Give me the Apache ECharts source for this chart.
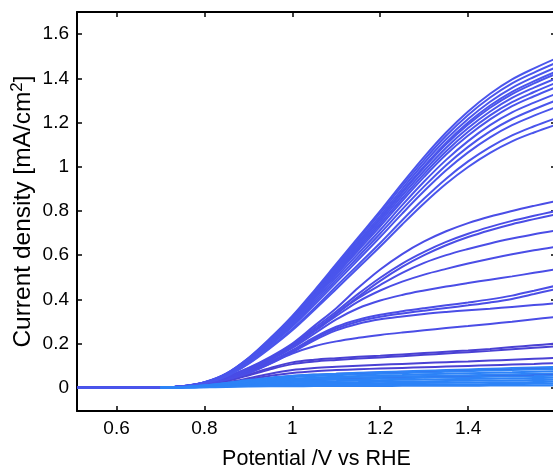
<!DOCTYPE html>
<html>
<head>
<meta charset="utf-8">
<script src="https://cdn.jsdelivr.net/npm/echarts@6/dist/echarts.min.js"></script>
<style>
html,body{margin:0;padding:0;background:#fff;}
#chart{width:553px;height:473px;}
</style>
</head>
<body>
<div id="chart"></div>
<script>
// Potential (V vs RHE) sample points
const potential = [0.51, 0.6, 0.7, 0.75, 0.8, 0.85, 0.9, 0.95, 1.0, 1.05, 1.1, 1.15, 1.2, 1.25, 1.3, 1.35, 1.4, 1.45, 1.5, 1.55, 1.6];

// High-current curves (mA/cm2)
const highCurves = [
  [0,0,0.002,0.007,0.025,0.065,0.135,0.225,0.325,0.44,0.56,0.68,0.80,0.925,1.045,1.155,1.25,1.33,1.395,1.445,1.49],
  [0,0,0.002,0.007,0.025,0.064,0.133,0.222,0.321,0.434,0.553,0.671,0.79,0.913,1.031,1.14,1.234,1.313,1.377,1.426,1.47],
  [0,0,0.002,0.007,0.024,0.063,0.131,0.219,0.316,0.428,0.545,0.662,0.778,0.9,1.017,1.124,1.216,1.294,1.357,1.406,1.45],
  [0,0,0.002,0.007,0.024,0.062,0.13,0.216,0.312,0.422,0.538,0.653,0.768,0.888,1.003,1.109,1.2,1.277,1.339,1.387,1.43],
  [0,0,0.002,0.007,0.024,0.062,0.129,0.214,0.31,0.419,0.534,0.648,0.762,0.882,0.996,1.101,1.191,1.267,1.329,1.377,1.42],
  [0,0,0.002,0.007,0.023,0.061,0.127,0.212,0.306,0.414,0.526,0.639,0.752,0.87,0.982,1.086,1.175,1.25,1.311,1.358,1.40],
  [0,0,0.002,0.006,0.023,0.06,0.125,0.208,0.301,0.407,0.519,0.63,0.741,0.857,0.968,1.07,1.158,1.232,1.292,1.338,1.38],
  [0,0,0.002,0.006,0.023,0.059,0.123,0.205,0.297,0.402,0.511,0.621,0.73,0.845,0.954,1.055,1.141,1.214,1.274,1.319,1.36],
  [0,0,0.002,0.006,0.022,0.058,0.121,0.201,0.29,0.393,0.5,0.607,0.714,0.826,0.933,1.031,1.116,1.188,1.246,1.29,1.33],
  [0,0,0.002,0.006,0.022,0.057,0.118,0.196,0.283,0.384,0.488,0.593,0.698,0.807,0.911,1.007,1.09,1.16,1.216,1.26,1.30],
  [0,0,0.002,0.006,0.021,0.055,0.115,0.192,0.277,0.375,0.477,0.579,0.682,0.788,0.89,0.984,1.065,1.133,1.188,1.231,1.27],
  [0,0,0.002,0.006,0.02,0.053,0.11,0.184,0.266,0.36,0.459,0.557,0.655,0.758,0.856,0.946,1.024,1.089,1.142,1.183,1.22],
  [0,0,0.002,0.006,0.02,0.052,0.108,0.18,0.26,0.352,0.447,0.543,0.639,0.739,0.835,0.923,0.999,1.063,1.115,1.155,1.19]
];

// Medium-current curves
const midCurves = [
  [0,0,0.002,0.006,0.02,0.05,0.09,0.14,0.20,0.28,0.36,0.452,0.535,0.605,0.662,0.708,0.745,0.775,0.80,0.823,0.845],
  [0,0,0.002,0.006,0.02,0.048,0.088,0.135,0.195,0.27,0.345,0.425,0.498,0.562,0.615,0.66,0.697,0.728,0.755,0.778,0.80],
  [0,0,0.002,0.006,0.02,0.047,0.086,0.132,0.19,0.26,0.335,0.412,0.484,0.547,0.6,0.645,0.682,0.713,0.74,0.763,0.785],
  [0,0,0.002,0.006,0.019,0.045,0.083,0.128,0.19,0.26,0.335,0.405,0.465,0.52,0.565,0.6,0.628,0.653,0.675,0.695,0.712],
  [0,0,0.002,0.006,0.019,0.045,0.083,0.13,0.185,0.255,0.325,0.39,0.44,0.48,0.512,0.538,0.562,0.584,0.604,0.622,0.638],
  [0,0,0.002,0.006,0.018,0.043,0.08,0.125,0.18,0.245,0.31,0.36,0.395,0.42,0.44,0.458,0.474,0.489,0.504,0.52,0.536],
  [0,0,0.002,0.005,0.017,0.04,0.075,0.118,0.17,0.228,0.276,0.308,0.33,0.346,0.36,0.373,0.386,0.40,0.417,0.439,0.462],
  [0,0,0.002,0.005,0.017,0.04,0.073,0.115,0.165,0.222,0.268,0.30,0.321,0.336,0.349,0.361,0.373,0.386,0.402,0.424,0.447],
  [0,0,0.002,0.005,0.016,0.038,0.07,0.11,0.16,0.215,0.26,0.29,0.31,0.323,0.334,0.343,0.351,0.358,0.366,0.374,0.382],
  [0,0,0.002,0.005,0.016,0.036,0.065,0.11,0.155,0.188,0.21,0.226,0.239,0.25,0.26,0.27,0.279,0.289,0.299,0.31,0.321]
];

// Low-current curves
const lowCurves = [
  [0,0,0.001,0.004,0.013,0.032,0.06,0.09,0.115,0.127,0.134,0.14,0.145,0.151,0.157,0.163,0.169,0.176,0.184,0.192,0.20],
  [0,0,0.001,0.004,0.012,0.03,0.056,0.084,0.107,0.119,0.126,0.132,0.137,0.143,0.149,0.155,0.161,0.167,0.174,0.181,0.188],
  [0,0,0.001,0.003,0.01,0.024,0.043,0.064,0.08,0.089,0.095,0.1,0.104,0.108,0.112,0.116,0.119,0.123,0.127,0.131,0.135],
  [0,0,0.001,0.003,0.009,0.021,0.037,0.054,0.067,0.075,0.08,0.084,0.087,0.09,0.093,0.096,0.099,0.102,0.105,0.108,0.112],
  [0,0,0.001,0.003,0.008,0.018,0.03,0.043,0.053,0.059,0.063,0.066,0.069,0.072,0.074,0.077,0.079,0.082,0.085,0.087,0.09],
  [0,0,0.001,0.002,0.006,0.013,0.021,0.029,0.035,0.039,0.042,0.044,0.046,0.048,0.05,0.051,0.053,0.055,0.056,0.058,0.06]
];

// Near-zero curves (visible from about 0.7 V)
const baseCurves = [
  [null,null,0.001,0.004,0.011,0.022,0.035,0.046,0.054,0.06,0.064,0.068,0.071,0.074,0.077,0.08,0.083,0.086,0.089,0.092,0.095],
  [null,null,0.001,0.003,0.01,0.02,0.031,0.041,0.048,0.053,0.057,0.06,0.063,0.066,0.069,0.072,0.075,0.078,0.08,0.083,0.085],
  [null,null,0.001,0.003,0.009,0.018,0.028,0.036,0.042,0.047,0.05,0.053,0.056,0.058,0.061,0.063,0.066,0.068,0.07,0.073,0.075],
  [null,null,0.001,0.003,0.008,0.016,0.025,0.032,0.037,0.041,0.044,0.046,0.049,0.051,0.053,0.055,0.057,0.059,0.061,0.063,0.065],
  [null,null,0.001,0.002,0.007,0.014,0.021,0.027,0.031,0.034,0.037,0.039,0.041,0.043,0.045,0.047,0.048,0.05,0.052,0.053,0.055],
  [null,null,0.001,0.002,0.006,0.012,0.018,0.023,0.026,0.029,0.031,0.033,0.034,0.036,0.037,0.039,0.04,0.041,0.043,0.044,0.045],
  [null,null,0.001,0.002,0.005,0.01,0.015,0.019,0.021,0.023,0.025,0.026,0.027,0.028,0.029,0.031,0.032,0.033,0.034,0.035,0.036],
  [null,null,0.001,0.002,0.004,0.008,0.012,0.015,0.017,0.018,0.019,0.02,0.021,0.022,0.022,0.023,0.024,0.025,0.025,0.026,0.027],
  [null,null,0.001,0.001,0.003,0.006,0.009,0.011,0.012,0.013,0.013,0.014,0.014,0.015,0.015,0.016,0.016,0.017,0.017,0.018,0.018],
  [null,null,0.001,0.001,0.002,0.004,0.006,0.007,0.007,0.008,0.008,0.008,0.008,0.009,0.009,0.009,0.009,0.01,0.01,0.01,0.01]
];

const xTicks = [0.6, 0.8, 1, 1.2, 1.4];
const yTicks = [0, 0.2, 0.4, 0.6, 0.8, 1, 1.2, 1.4, 1.6];

const FONT = 'Liberation Sans, Arial, Helvetica, sans-serif';
const groups = [
  {curves: lowCurves, color: '#4a41d4'},
  {curves: midCurves, color: '#4a4de6'},
  {curves: highCurves, color: '#4a55ec'},
  {curves: baseCurves, color: '#2d83f7'}
];

const series = [];
groups.forEach(g => {
  g.curves.forEach(vals => {
    const pts = [];
    potential.forEach((x, i) => { if (vals[i] !== null) pts.push([x, vals[i]]); });
    series.push({
      type: 'line',
      xAxisIndex: 0,
      yAxisIndex: 0,
      data: pts,
      showSymbol: false,
      smooth: 0.35,
      lineStyle: {color: g.color, width: 2},
      silent: true
    });
  });
});

const axisCommon = {
  axisLine: {show: true, onZero: false, lineStyle: {color: '#000', width: 2}},
  splitLine: {show: false}
};

const chart = echarts.init(document.getElementById('chart'), null, {renderer: 'canvas'});
chart.setOption({
  animation: false,
  backgroundColor: '#fff',
  grid: {left: 77, top: 12, width: 479, height: 399, containLabel: false, outerBoundsMode: 'none'},
  xAxis: [
    Object.assign({
      type: 'value', min: 0.51, max: 1.6, position: 'bottom',
      name: 'Potential /V vs RHE', nameLocation: 'middle', nameGap: 37, nameMoveOverlap: false,
      nameTextStyle: {fontFamily: FONT, fontSize: 21.5, color: '#000'},
      axisTick: {inside: true, length: 5, customValues: xTicks, lineStyle: {color: '#000', width: 1.5}},
      axisLabel: {customValues: xTicks, fontFamily: FONT, fontSize: 19, color: '#000', margin: 8}
    }, axisCommon),
    Object.assign({
      type: 'value', min: 0.51, max: 1.6, position: 'top',
      axisTick: {inside: true, length: 5, customValues: xTicks, lineStyle: {color: '#000', width: 1.5}},
      axisLabel: {show: false}
    }, axisCommon)
  ],
  yAxis: [
    Object.assign({
      type: 'value', min: -0.105, max: 1.7, position: 'left',
      name: '{a|Current density [mA/cm}{b|2}{a|]}', nameLocation: 'middle', nameGap: 39, nameMoveOverlap: false,
      nameTextStyle: {
        fontFamily: FONT, fontSize: 24.5, color: '#000',
        rich: {
          a: {fontFamily: FONT, fontSize: 24.5, lineHeight: 29, color: '#000'},
          b: {fontFamily: FONT, fontSize: 17, lineHeight: 17, verticalAlign: 'top', color: '#000'}
        }
      },
      axisTick: {inside: true, length: 5, customValues: yTicks, lineStyle: {color: '#000', width: 1.5}},
      axisLabel: {customValues: yTicks, fontFamily: FONT, fontSize: 19, color: '#000', margin: 8}
    }, axisCommon),
    Object.assign({
      type: 'value', min: -0.105, max: 1.7, position: 'right',
      axisTick: {inside: true, length: 5, customValues: yTicks, lineStyle: {color: '#000', width: 1.5}},
      axisLabel: {show: false}
    }, axisCommon)
  ],
  series: series
});
</script>
</body>
</html>
